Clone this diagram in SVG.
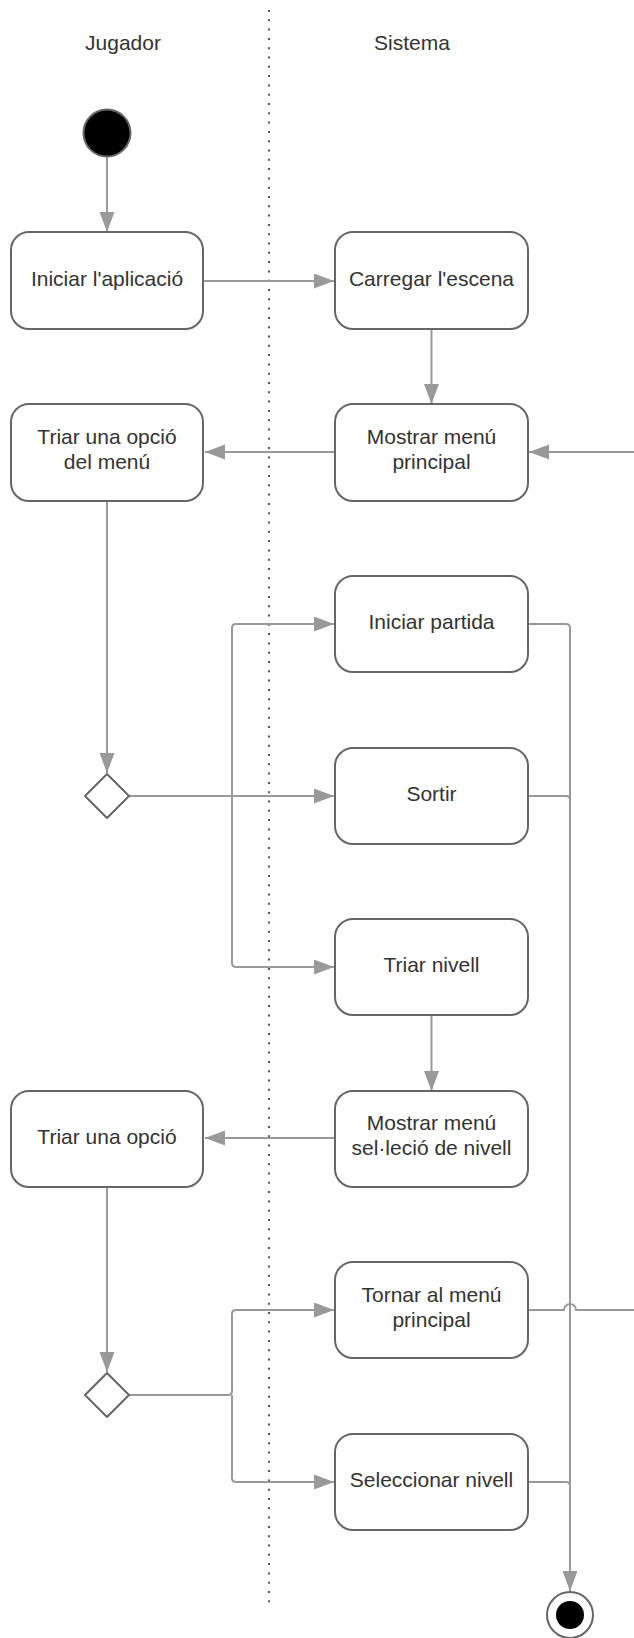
<svg xmlns="http://www.w3.org/2000/svg" width="634" height="1638" viewBox="0 0 634 1638">
  <style>
    .lane { fill: none; stroke: #555; stroke-width: 2; stroke-dasharray: 2 7.3; }
    .box { fill: #fff; stroke: #666; stroke-width: 2; }
    .dia { fill: #fff; stroke: #666; stroke-width: 2; stroke-linejoin: round; }
    .edge { fill: none; stroke: #999; stroke-width: 2; }
    .arr { marker-end: url(#head); }
    text { font-family: "Liberation Sans", Arial, sans-serif; font-size: 21px; fill: #333; text-anchor: middle; }
  </style>
  <defs>
    <marker id="head" markerUnits="userSpaceOnUse" markerWidth="22" markerHeight="16" refX="20" refY="7.5" orient="auto">
      <path d="M0 0 L20 7.5 L0 15 Z" fill="#999"/>
    </marker>
  </defs>

  <rect width="634" height="1638" fill="#fff"/>

  <!-- swimlane divider and headers -->
  <line class="lane" x1="269" y1="10" x2="269" y2="1608"/>
  <text x="123" y="50">Jugador</text>
  <text x="412" y="50">Sistema</text>

  <!-- connectors -->
  <g id="connectors">
    <path class="edge arr" d="M107 157 V232"/>
    <path class="edge arr" d="M203 281 H334"/>
    <path class="edge arr" d="M431.5 329 V404"/>
    <path class="edge arr" d="M335 452 H205"/>
    <path class="edge arr" d="M640 452 H529"/>
    <path class="edge arr" d="M107 501 V773"/>
    <!-- first choice fork -->
    <path class="edge arr" d="M129 796 H334"/>
    <path class="edge arr" d="M232 796 V628 Q232 624 236 624 H334"/>
    <path class="edge arr" d="M232 796 V963 Q232 967 236 967 H334"/>
    <path class="edge arr" d="M431.5 1015 V1091"/>
    <path class="edge arr" d="M335 1138 H205"/>
    <path class="edge arr" d="M107 1187 V1372"/>
    <!-- second choice fork -->
    <path class="edge" d="M129 1395 H228 Q232 1395 232 1391 V1314 Q232 1310 236 1310 H334" marker-end="url(#head)"/>
    <path class="edge arr" d="M232 1395 V1478 Q232 1482 236 1482 H334"/>
    <!-- exits towards the final node -->
    <path class="edge arr" d="M528 624 H566 Q570 624 570 628 V1591"/>
    <path class="edge" d="M528 796 H566 Q570 796 570 800"/>
    <path class="edge" d="M528 1482 H566 Q570 1482 570 1486"/>
    <!-- back to the main menu, hopping over the vertical line -->
    <path class="edge" d="M528 1310 H564 A6 6 0 0 1 576 1310 H640"/>
  </g>

  <!-- nodes -->
  <g id="start"><circle cx="107" cy="133" r="23.5" fill="#000" stroke="#666" stroke-width="2"/></g>

  <g id="iniciar-aplicacio">
    <rect class="box" x="11" y="232" width="192" height="97" rx="18"/>
    <text x="107" y="286">Iniciar l'aplicació</text>
  </g>
  <g id="carregar-escena">
    <rect class="box" x="335" y="232" width="193" height="97" rx="18"/>
    <text x="431.5" y="286">Carregar l'escena</text>
  </g>
  <g id="triar-opcio-menu">
    <rect class="box" x="11" y="404" width="192" height="97" rx="18"/>
    <text x="107" y="444">Triar una opció</text>
    <text x="107" y="469">del menú</text>
  </g>
  <g id="mostrar-menu-principal">
    <rect class="box" x="335" y="404" width="193" height="97" rx="18"/>
    <text x="431.5" y="444">Mostrar menú</text>
    <text x="431.5" y="469">principal</text>
  </g>
  <g id="iniciar-partida">
    <rect class="box" x="335" y="576" width="193" height="96" rx="18"/>
    <text x="431.5" y="629">Iniciar partida</text>
  </g>
  <g id="decisio-menu">
    <path class="dia" d="M107 774 L129 796 L107 818 L85 796 Z"/>
  </g>
  <g id="sortir">
    <rect class="box" x="335" y="748" width="193" height="96" rx="18"/>
    <text x="431.5" y="801">Sortir</text>
  </g>
  <g id="triar-nivell">
    <rect class="box" x="335" y="919" width="193" height="96" rx="18"/>
    <text x="431.5" y="972">Triar nivell</text>
  </g>
  <g id="triar-opcio">
    <rect class="box" x="11" y="1091" width="192" height="96" rx="18"/>
    <text x="107" y="1144">Triar una opció</text>
  </g>
  <g id="mostrar-menu-nivell">
    <rect class="box" x="335" y="1091" width="193" height="96" rx="18"/>
    <text x="431.5" y="1130">Mostrar menú</text>
    <text x="431.5" y="1155">sel·leció de nivell</text>
  </g>
  <g id="tornar-menu">
    <rect class="box" x="335" y="1262" width="193" height="96" rx="18"/>
    <text x="431.5" y="1302">Tornar al menú</text>
    <text x="431.5" y="1327">principal</text>
  </g>
  <g id="decisio-nivell">
    <path class="dia" d="M107 1373 L129 1395 L107 1417 L85 1395 Z"/>
  </g>
  <g id="seleccionar-nivell">
    <rect class="box" x="335" y="1434" width="193" height="96" rx="18"/>
    <text x="431.5" y="1487">Seleccionar nivell</text>
  </g>
  <g id="final">
    <circle cx="570" cy="1615" r="23" fill="#fff" stroke="#666" stroke-width="2"/>
    <circle cx="570" cy="1615" r="14" fill="#000"/>
  </g>
</svg>
